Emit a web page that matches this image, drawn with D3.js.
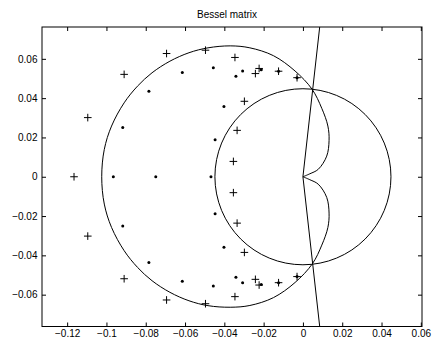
<!DOCTYPE html>
<html>
<head>
<meta charset="utf-8">
<script src="https://cdn.jsdelivr.net/npm/d3@7"></script>
<style>
  body { margin: 0; background: #fff; }
  svg { display: block; font-family: "Liberation Sans", Arial, Helvetica, sans-serif; }
</style>
</head>
<body>
<div class="chart-container"></div>
<script>
// axis ticks
let xTicks = [-0.12, -0.1, -0.08, -0.06, -0.04, -0.02, 0, 0.02, 0.04, 0.06];
let yTicks = [-0.06, -0.04, -0.02, 0, 0.02, 0.04, 0.06];
let xDomain = [-0.1328, 0.0606];
let yDomain = [-0.0762, 0.0762];

// dots (eigenvalues)
let dotPoints = [
  [-0.0965, 0], [-0.0749, 0], [-0.0468, 0],
  [-0.0917, 0.0251], [-0.0917, -0.0251],
  [-0.0784, 0.0435], [-0.0784, -0.0436],
  [-0.0614, 0.0531], [-0.0614, -0.0532],
  [-0.0456, 0.0555], [-0.0456, -0.0556],
  [-0.0447, 0.0188], [-0.0447, -0.0188],
  [-0.0402, 0.0358], [-0.0402, -0.0359],
  [-0.0341, 0.0511], [-0.0341, -0.0512],
  [-0.0307, 0.0538], [-0.0307, -0.0539],
  [-0.0212, 0.0545], [-0.0212, -0.0548],
  [-0.0124, 0.0537], [-0.0124, -0.0539],
  [-0.0030, 0.0504], [-0.0030, -0.0508]
];

// plus markers
let plusPoints = [
  [-0.1165, 0],
  [-0.1095, 0.0301], [-0.1095, -0.0302],
  [-0.0910, 0.0521], [-0.0910, -0.0519],
  [-0.0694, 0.0627], [-0.0694, -0.0627],
  [-0.0496, 0.0644], [-0.0496, -0.0646],
  [-0.0346, 0.0607], [-0.0346, -0.0610],
  [-0.0298, 0.0384], [-0.0298, -0.0385],
  [-0.0335, 0.0236], [-0.0335, -0.0236],
  [-0.0354, 0.0078], [-0.0354, -0.0081],
  [-0.0242, 0.0525], [-0.0242, -0.0522],
  [-0.0223, 0.0551], [-0.0223, -0.0551],
  [-0.0124, 0.0537], [-0.0124, -0.0539],
  [-0.0030, 0.0504], [-0.0030, -0.0508]
];

// big contour, traced from the origin upward and round to the origin again
let contourUpper = [
  [0, 0], [0.0035, 0.0015], [0.0078, 0.0038], [0.0121, 0.0105], [0.0133, 0.0185],
  [0.0127, 0.0258], [0.0096, 0.0348], [0.0046, 0.0446], [-0.0040, 0.0538],
  [-0.0150, 0.0616], [-0.0270, 0.0656], [-0.0370, 0.0666], [-0.0483, 0.0656],
  [-0.0580, 0.0631], [-0.0677, 0.0588], [-0.0768, 0.0529], [-0.0842, 0.0461],
  [-0.0910, 0.0376], [-0.0974, 0.0258], [-0.1011, 0.0139], [-0.1024, 0]
];
let contourLower = [
  [-0.1011, -0.0139], [-0.0974, -0.0258], [-0.0910, -0.0376], [-0.0842, -0.0461],
  [-0.0768, -0.0529], [-0.0677, -0.0588], [-0.0580, -0.0631], [-0.0483, -0.0656],
  [-0.0370, -0.0664], [-0.0270, -0.0655], [-0.0150, -0.0615], [-0.0040, -0.0538],
  [0.0048, -0.0443], [0.0096, -0.0348], [0.0127, -0.0258], [0.0133, -0.0185],
  [0.0121, -0.0105], [0.0078, -0.0038], [0.0035, -0.0015], [0, 0]
];

// small circle round the origin
let circleCenter = [0, 0];
let circleRadius = 0.0448;

// the two straight rays out of the origin
let rayPoints = [[0.0112, 0.1], [0, 0], [0.0112, -0.1]];

let margin = {top: 27, right: 11, bottom: 15.5, left: 42};
let width = 433, height = 342;
let plotW = width - margin.left - margin.right;
let plotH = height - margin.top - margin.bottom;

let x = d3.scaleLinear().domain(xDomain).range([0, plotW]);
let y = d3.scaleLinear().domain(yDomain).range([plotH, 0]);

let fmt = function(d) {
  if (d === 0) return "0";
  return (d < 0 ? "\u2212" : "") + String(+Math.abs(d).toFixed(2));
};

let svg = d3.select(".chart-container")
  .append("svg")
  .attr("width", width)
  .attr("height", height);

svg.append("text")
  .attr("x", 227)
  .attr("y", 17.5)
  .attr("text-anchor", "middle")
  .style("font-size", "10px")
  .text("Bessel matrix");

let g = svg.append("g")
  .attr("transform", "translate(" + margin.left + "," + margin.top + ")");

g.append("defs").append("clipPath")
  .attr("id", "plot-clip")
  .append("rect")
  .attr("width", plotW)
  .attr("height", plotH);

let plot = g.append("g").attr("clip-path", "url(#plot-clip)");

let line = d3.line()
  .x(function(d) { return x(d[0]); })
  .y(function(d) { return y(d[1]); });

// contour
plot.append("path")
  .datum(contourUpper.concat(contourLower))
  .attr("fill", "none")
  .attr("stroke", "#000")
  .attr("stroke-width", 1)
  .attr("d", line.curve(d3.curveCatmullRom.alpha(0.5)));

// small circle
plot.append("circle")
  .attr("cx", x(circleCenter[0]))
  .attr("cy", y(circleCenter[1]))
  .attr("r", x(circleRadius) - x(0))
  .attr("fill", "none")
  .attr("stroke", "#000")
  .attr("stroke-width", 1);

// rays
plot.append("path")
  .datum(rayPoints)
  .attr("fill", "none")
  .attr("stroke", "#000")
  .attr("stroke-width", 1)
  .attr("d", d3.line()
    .x(function(d) { return x(d[0]); })
    .y(function(d) { return y(d[1]); }));

// dots
plot.selectAll(".dot")
  .data(dotPoints)
  .enter()
  .append("circle")
  .attr("class", "dot")
  .attr("cx", function(d) { return x(d[0]); })
  .attr("cy", function(d) { return y(d[1]); })
  .attr("r", 1.5)
  .attr("fill", "#000");

// plus signs
let ps = 3.8;
plot.selectAll(".plus")
  .data(plusPoints)
  .enter()
  .append("path")
  .attr("class", "plus")
  .attr("d", function(d) {
    let cx = x(d[0]), cy = y(d[1]);
    return "M" + (cx - ps) + "," + cy + "H" + (cx + ps) +
           "M" + cx + "," + (cy - ps) + "V" + (cy + ps);
  })
  .attr("fill", "none")
  .attr("stroke", "#000")
  .attr("stroke-width", 1);

// axes, ticks point inward on all four sides
g.append("g")
  .attr("transform", "translate(0," + plotH + ")")
  .call(d3.axisBottom(x).tickValues(xTicks).tickSizeInner(-4).tickSizeOuter(0)
    .tickPadding(3).tickFormat(fmt));

g.append("g")
  .call(d3.axisLeft(y).tickValues(yTicks).tickSizeInner(-4).tickSizeOuter(0)
    .tickPadding(4.5).tickFormat(fmt));

g.append("g")
  .call(d3.axisTop(x).tickValues(xTicks).tickSizeInner(-4).tickSizeOuter(0).tickFormat(""));

g.append("g")
  .attr("transform", "translate(" + plotW + ",0)")
  .call(d3.axisRight(y).tickValues(yTicks).tickSizeInner(-4).tickSizeOuter(0).tickFormat(""));

g.selectAll(".domain").remove();
g.selectAll(".tick line").attr("stroke", "#000");
g.selectAll(".tick text")
  .attr("fill", "#000")
  .style("font-size", "10px")
  .style("font-family", "\"Liberation Sans\", Arial, Helvetica, sans-serif");

// box
g.append("rect")
  .attr("width", plotW)
  .attr("height", plotH)
  .attr("fill", "none")
  .attr("stroke", "#000")
  .attr("stroke-width", 1);
</script>
</body>
</html>
